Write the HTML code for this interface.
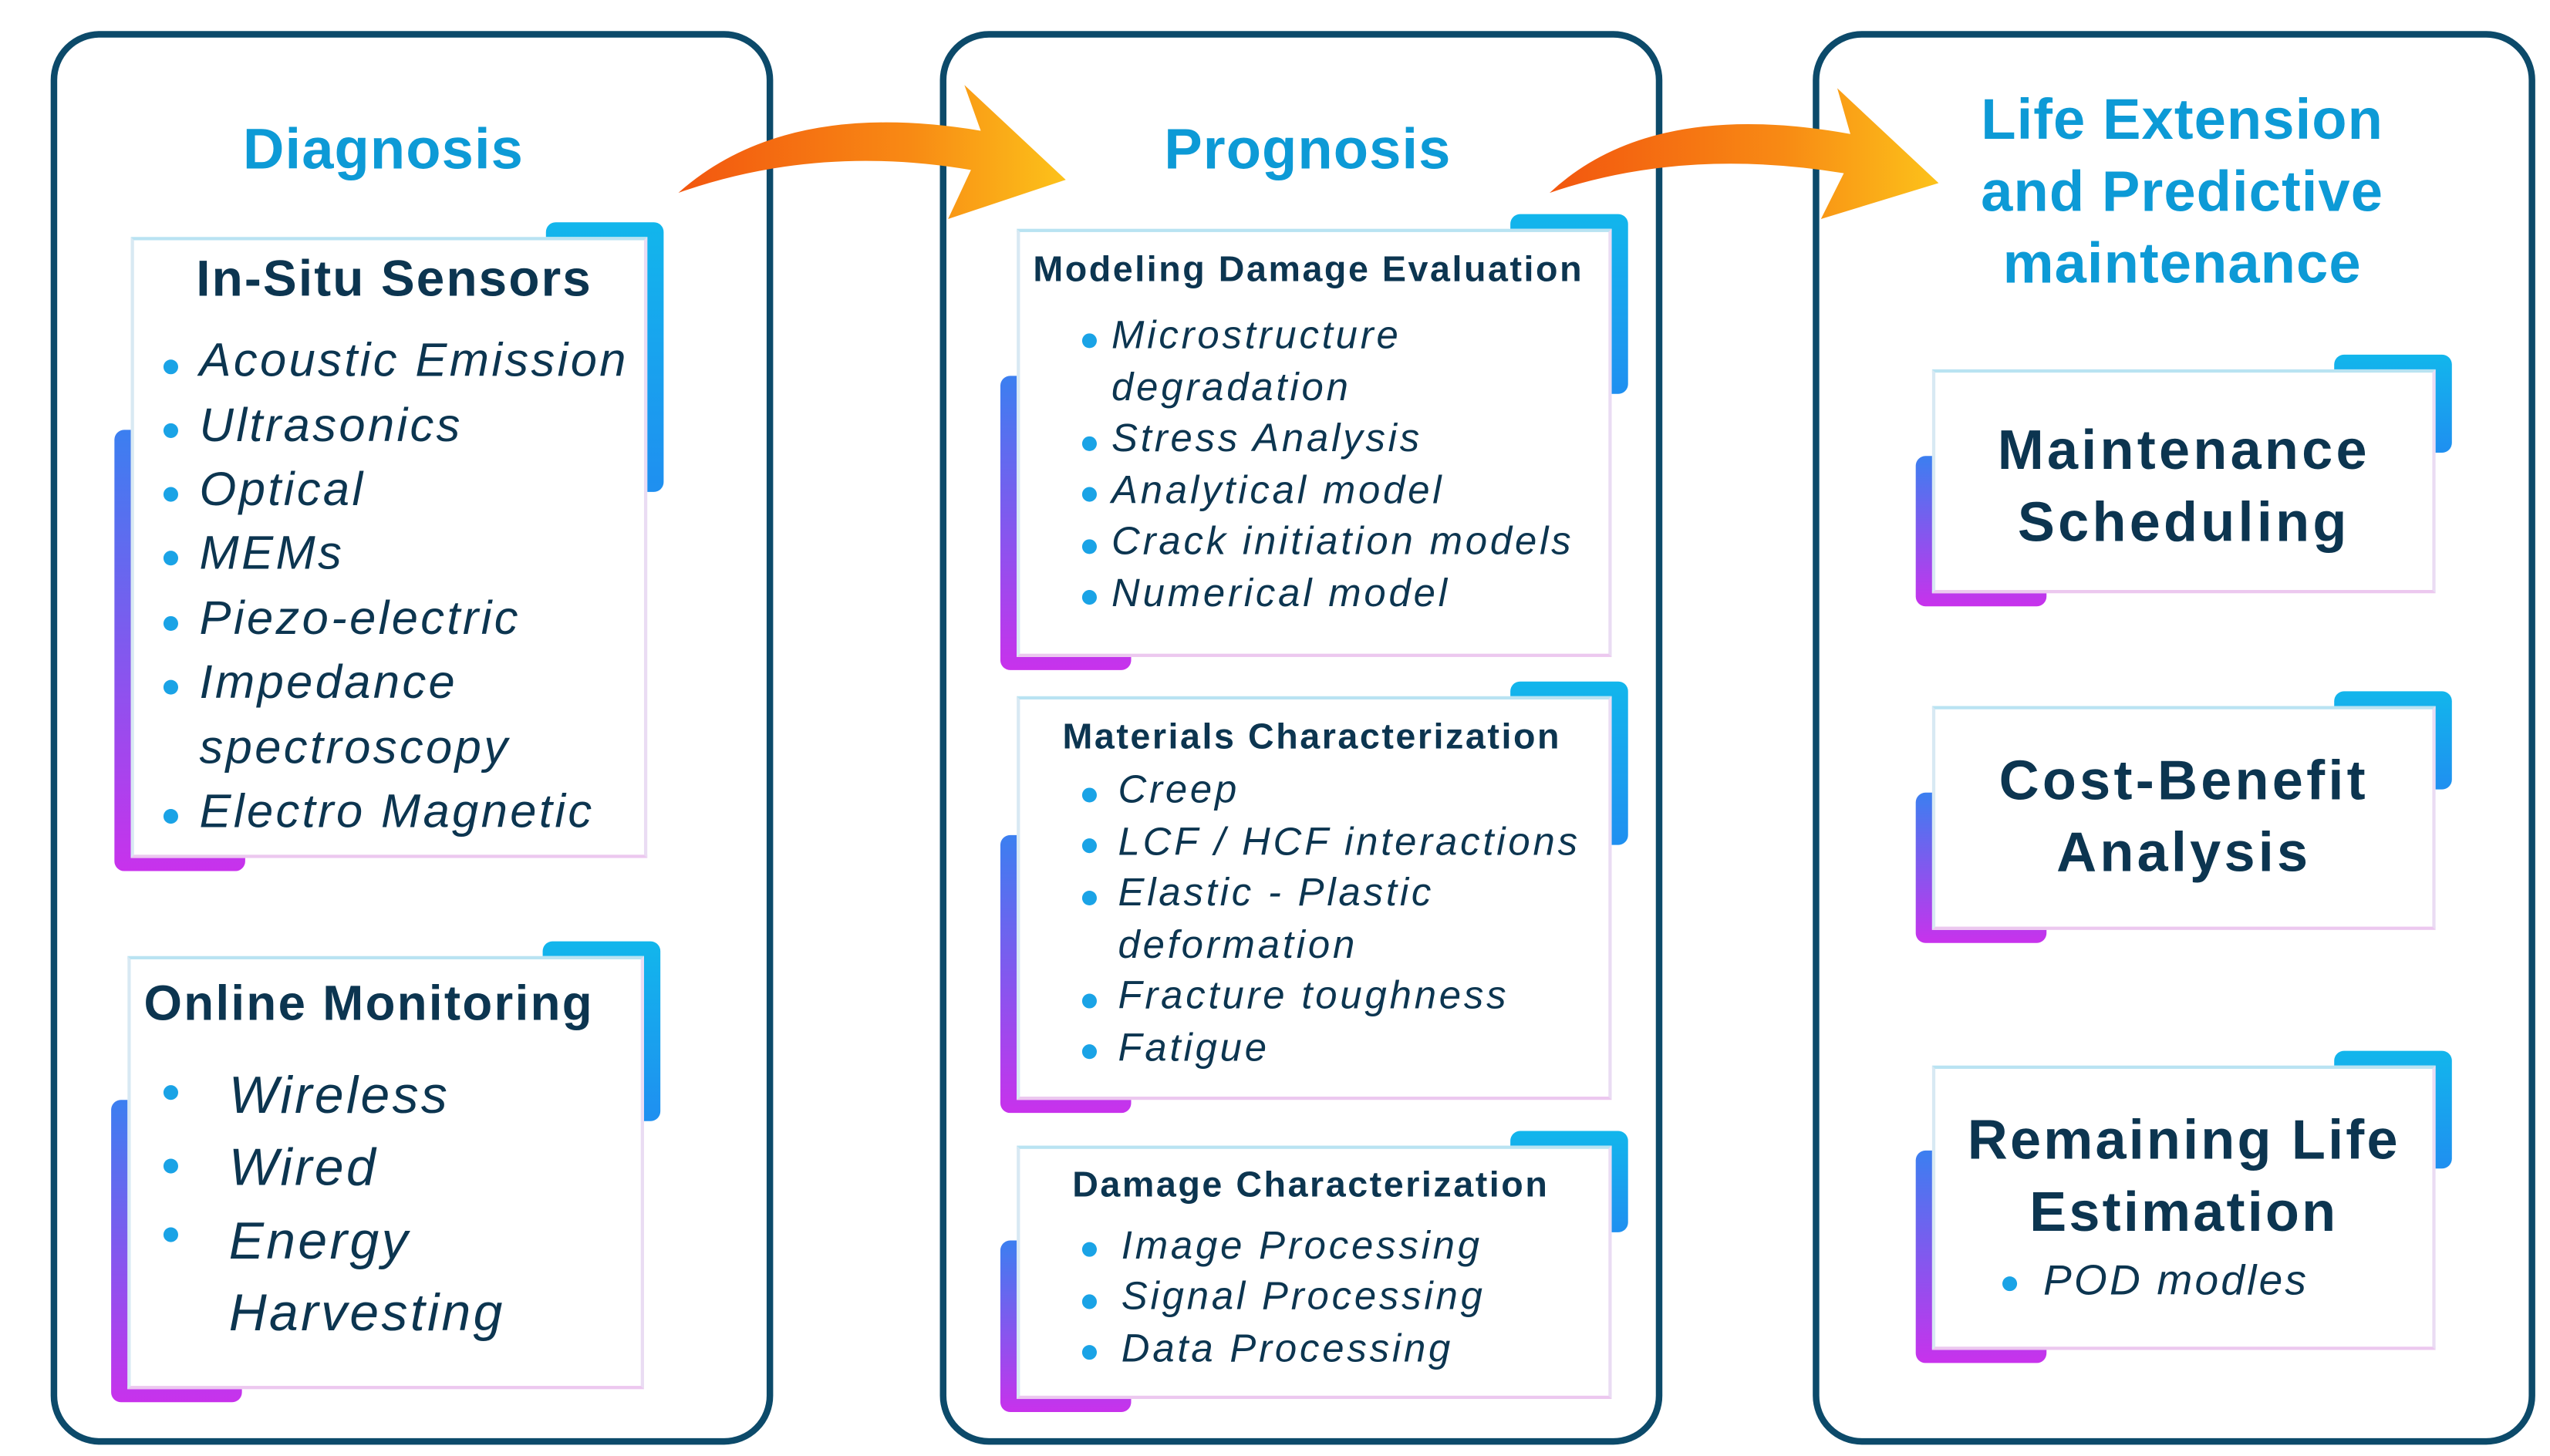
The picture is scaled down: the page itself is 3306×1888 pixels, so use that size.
<!DOCTYPE html>
<html><head><meta charset="utf-8"><style>
html,body{margin:0;padding:0;background:#fff;}
body{width:3306px;height:1887px;overflow:hidden;position:relative;}
#w{position:absolute;left:0;top:0;width:1560px;height:891px;transform:scale(2.1192);transform-origin:0 0;font-family:"Liberation Sans",sans-serif;}
.panel{position:absolute;border:4px solid #0c4a6a;border-radius:30px;box-sizing:border-box;}
.h{position:absolute;color:#0d9ad6;font-weight:bold;text-align:center;letter-spacing:0.5px;}
.card{position:absolute;}
.card .tr{position:absolute;right:-10px;top:-9px;width:72px;height:165px;border-radius:6px;background:linear-gradient(#12b6ec,#1f8ff0);}
.card .bl{position:absolute;left:-10px;bottom:-8px;width:80px;height:270px;border-radius:6px;background:linear-gradient(#3b7ff0,#c832ec);}
.card .in{position:absolute;left:0;top:0;right:0;bottom:0;background:#fff;border:2px solid #d8e9f3;border-top-color:#b9e3f2;border-bottom-color:#ecc8ef;border-right-color:#eadcf3;}
.t{position:absolute;color:#0c3550;font-weight:bold;white-space:nowrap;}
.i{position:absolute;color:#0c3550;font-style:italic;white-space:nowrap;}
.c1 .i{letter-spacing:1.6px;}
.c2 .i{letter-spacing:1.8px;}
.b{position:absolute;width:9px;height:9px;border-radius:50%;background:#1aa3e6;margin:-1px 0 0 -1px;}
</style></head><body><div id="w">
<div class="panel" style="left:31px;top:19px;width:442px;height:865px"></div>
<div class="panel" style="left:575px;top:19px;width:442px;height:865px"></div>
<div class="panel" style="left:1109px;top:19px;width:442px;height:865px"></div>

<svg style="position:absolute;left:0;top:0" width="1560" height="891">
<defs><linearGradient id="g" x1="0" x2="1"><stop offset="0" stop-color="#f2560f"/><stop offset="0.6" stop-color="#f88a14"/><stop offset="1" stop-color="#fcc21a"/></linearGradient></defs>
<path d="M415 118 Q480 60 600 80 L590 52 L652 110 L580 134 L594 104 Q500 88 415 118Z" fill="url(#g)"/>
<path d="M948 118 Q1010 60 1132 82 L1124 54 L1186 112 L1114 134 L1128 106 Q1030 90 948 118Z" fill="url(#g)"/>
</svg>

<div class="h" style="left:32px;width:405px;top:72px;font-size:35px">Diagnosis</div>
<div class="h" style="left:576px;width:448px;top:72px;font-size:35px">Prognosis</div>
<div class="h" style="left:1110px;width:450px;top:52px;font-size:35px;line-height:44px">Life Extension<br>and Predictive<br>maintenance</div>

<div class="c1">
<div class="card" style="left:80px;top:145px;width:316px;height:380px"><div class="tr"></div><div class="bl"></div><div class="in"></div></div>
<div class="t" style="left:120px;top:153px;font-size:31px;letter-spacing:1px">In-Situ Sensors</div>
<div class="b" style="left:101px;top:221px"></div><div class="i" style="left:122px;top:205px;font-size:29px">Acoustic Emission</div>
<div class="b" style="left:101px;top:260px"></div><div class="i" style="left:122px;top:245px;font-size:29px">Ultrasonics</div>
<div class="b" style="left:101px;top:299px"></div><div class="i" style="left:122px;top:284px;font-size:29px">Optical</div>
<div class="b" style="left:101px;top:338px"></div><div class="i" style="left:122px;top:323px;font-size:29px">MEMs</div>
<div class="b" style="left:101px;top:378px"></div><div class="i" style="left:122px;top:363px;font-size:29px">Piezo-electric</div>
<div class="b" style="left:101px;top:417px"></div><div class="i" style="left:122px;top:402px;font-size:29px">Impedance</div>
<div class="i" style="left:122px;top:442px;font-size:29px">spectroscopy</div>
<div class="b" style="left:101px;top:496px"></div><div class="i" style="left:122px;top:481px;font-size:29px">Electro Magnetic</div>

<div class="card" style="left:78px;top:585px;width:316px;height:265px"><div class="tr" style="height:110px"></div><div class="bl" style="height:185px"></div><div class="in"></div></div>
<div class="t" style="left:88px;top:598px;font-size:30px;letter-spacing:1.1px">Online Monitoring</div>
<div class="b" style="left:101px;top:665px"></div><div class="i" style="left:140px;top:652px;font-size:32px">Wireless</div>
<div class="b" style="left:101px;top:710px"></div><div class="i" style="left:140px;top:696px;font-size:32px">Wired</div>
<div class="b" style="left:101px;top:752px"></div><div class="i" style="left:140px;top:741px;font-size:32px">Energy</div>
<div class="i" style="left:140px;top:785px;font-size:32px">Harvesting</div>
</div>

<div class="c2">
<div class="card" style="left:622px;top:140px;width:364px;height:262px"><div class="tr" style="height:110px"></div><div class="bl" style="height:180px"></div><div class="in"></div></div>
<div class="t" style="left:632px;top:152px;font-size:22px;letter-spacing:1.2px">Modeling Damage Evaluation</div>
<div class="b" style="left:663px;top:205px"></div><div class="i" style="left:680px;top:192px;font-size:24px">Microstructure</div>
<div class="i" style="left:680px;top:224px;font-size:24px">degradation</div>
<div class="b" style="left:663px;top:268px"></div><div class="i" style="left:680px;top:255px;font-size:24px">Stress Analysis</div>
<div class="b" style="left:663px;top:299px"></div><div class="i" style="left:680px;top:287px;font-size:24px">Analytical model</div>
<div class="b" style="left:663px;top:331px"></div><div class="i" style="left:680px;top:318px;font-size:24px">Crack initiation models</div>
<div class="b" style="left:663px;top:362px"></div><div class="i" style="left:680px;top:350px;font-size:24px">Numerical model</div>

<div class="card" style="left:622px;top:426px;width:364px;height:247px"><div class="tr" style="height:100px"></div><div class="bl" style="height:170px"></div><div class="in"></div></div>
<div class="t" style="left:650px;top:438px;font-size:22px;letter-spacing:1.2px">Materials Characterization</div>
<div class="b" style="left:663px;top:483px"></div><div class="i" style="left:684px;top:470px;font-size:24px">Creep</div>
<div class="b" style="left:663px;top:514px"></div><div class="i" style="left:684px;top:502px;font-size:24px">LCF / HCF interactions</div>
<div class="b" style="left:663px;top:546px"></div><div class="i" style="left:684px;top:533px;font-size:24px">Elastic - Plastic</div>
<div class="i" style="left:684px;top:565px;font-size:24px">deformation</div>
<div class="b" style="left:663px;top:609px"></div><div class="i" style="left:684px;top:596px;font-size:24px">Fracture toughness</div>
<div class="b" style="left:663px;top:640px"></div><div class="i" style="left:684px;top:628px;font-size:24px">Fatigue</div>

<div class="card" style="left:622px;top:701px;width:364px;height:155px"><div class="tr" style="height:62px"></div><div class="bl" style="height:105px"></div><div class="in"></div></div>
<div class="t" style="left:656px;top:712px;font-size:22px;letter-spacing:1.2px">Damage Characterization</div>
<div class="b" style="left:663px;top:761px"></div><div class="i" style="left:686px;top:749px;font-size:24px">Image Processing</div>
<div class="b" style="left:663px;top:793px"></div><div class="i" style="left:686px;top:780px;font-size:24px">Signal Processing</div>
<div class="b" style="left:663px;top:824px"></div><div class="i" style="left:686px;top:812px;font-size:24px">Data Processing</div>
</div>

<div class="card" style="left:1182px;top:226px;width:308px;height:137px"><div class="tr" style="height:60px"></div><div class="bl" style="height:92px"></div><div class="in"></div></div>
<div class="t" style="left:1182px;width:308px;text-align:center;top:254px;font-size:34px;line-height:44px;letter-spacing:2px">Maintenance<br>Scheduling</div>
<div class="card" style="left:1182px;top:432px;width:308px;height:137px"><div class="tr" style="height:60px"></div><div class="bl" style="height:92px"></div><div class="in"></div></div>
<div class="t" style="left:1182px;width:308px;text-align:center;top:456px;font-size:34px;line-height:44px;letter-spacing:2px">Cost-Benefit<br>Analysis</div>
<div class="card" style="left:1182px;top:652px;width:308px;height:174px"><div class="tr" style="height:72px"></div><div class="bl" style="height:130px"></div><div class="in"></div></div>
<div class="t" style="left:1182px;width:308px;text-align:center;top:676px;font-size:34px;line-height:44px;letter-spacing:1.5px">Remaining Life<br>Estimation</div>
<div class="b" style="left:1226px;top:782px"></div><div class="i" style="left:1250px;top:768px;font-size:26px;letter-spacing:1.5px">POD modles</div>
</div></body></html>
